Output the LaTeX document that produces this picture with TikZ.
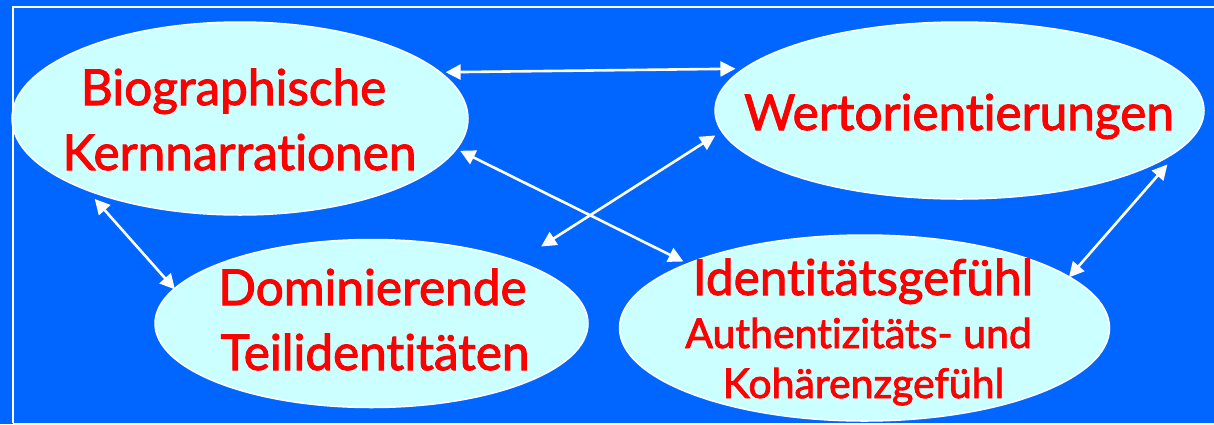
\documentclass[tikz,border=0pt]{standalone}
\usepackage{fontspec}
\setmainfont{Lato}[Ligatures=NoCommon, FakeBold=2]
\usetikzlibrary{arrows.meta,shapes.geometric}
\definecolor{bgblue}{HTML}{0066FF}
\definecolor{bubblefill}{HTML}{CCFFFF}
\definecolor{txtred}{HTML}{FF0000}
\begin{document}
\begin{tikzpicture}[x=1pt,y=-1pt,
  bubble/.style={ellipse, draw=white, line width=1.5pt, fill=bubblefill,
    inner sep=0pt, outer sep=0pt},
  lbl/.style={anchor=base, text=txtred, inner sep=0pt},
  big/.style={font=\fontsize{49.5}{49.5}\selectfont},
  small/.style={font=\fontsize{41}{41}\selectfont},
  tip/.tip={Triangle[length=15pt,width=15pt]},
  link/.style={draw=white, line width=2.6pt, tip-tip}]

% background and frame
\fill[bgblue] (0,0) rectangle (1214,424);
\useasboundingbox (0,0) rectangle (1214,424);
\draw[white, line width=2pt] (12.5,423) -- (12.5,6.5) -- (1230,6.5);
\draw[white, line width=1.5pt] (12.5,423.5) -- (1230,423.5);

% bubbles
\node[bubble, minimum width=456pt, minimum height=193pt] (bio)   at (240,118.5) {};
\node[bubble, minimum width=489pt, minimum height=177pt] (wert)  at (959.5,110.5) {};
\node[bubble, minimum width=433pt, minimum height=168pt] (dom)   at (371.5,323.5) {};
\node[bubble, minimum width=490pt, minimum height=186pt] (ident) at (864.5,328) {};

% labels
\node[lbl, big] (bio1) at (233.5,105) {Biographische};
\node[lbl, big] (bio2) at (239.5,170) {Kernnarrationen};
\node[lbl, big] (wert1) at (959,130) {Wertorientierungen};
\node[lbl, big] (dom1) at (372.5,305) {Dominierende};
\node[lbl, big] (dom2) at (375,370) {Teilidentitäten};
\node[lbl, big] (id1) at (863,295) {Identitätsgefühl};
\node[lbl, small] (id2) at (858.5,348) {Authentizitäts- und};
\node[lbl, small] (id3) at (863.5,398) {Kohärenzgefühl};

% connectors
\draw[link, shorten <=5.5pt, shorten >=8.7pt] (bio.13.46) -- (wert.169.77);
\draw[link, shorten <=4.2pt, shorten >=4.8pt] (bio.-8.06) -- (ident.160.27);
\draw[link, shorten <=28pt, shorten >=7.7pt] (dom.23.3) -- (wert.-175.1);
\draw[link, shorten <=12pt, shorten >=-0.9pt] (bio.-155.7) -- (dom.170.86);
\draw[link, shorten <=24.5pt, shorten >=-0.6pt] (wert.-9.77) -- (ident.14.18);
\end{tikzpicture}
\end{document}
